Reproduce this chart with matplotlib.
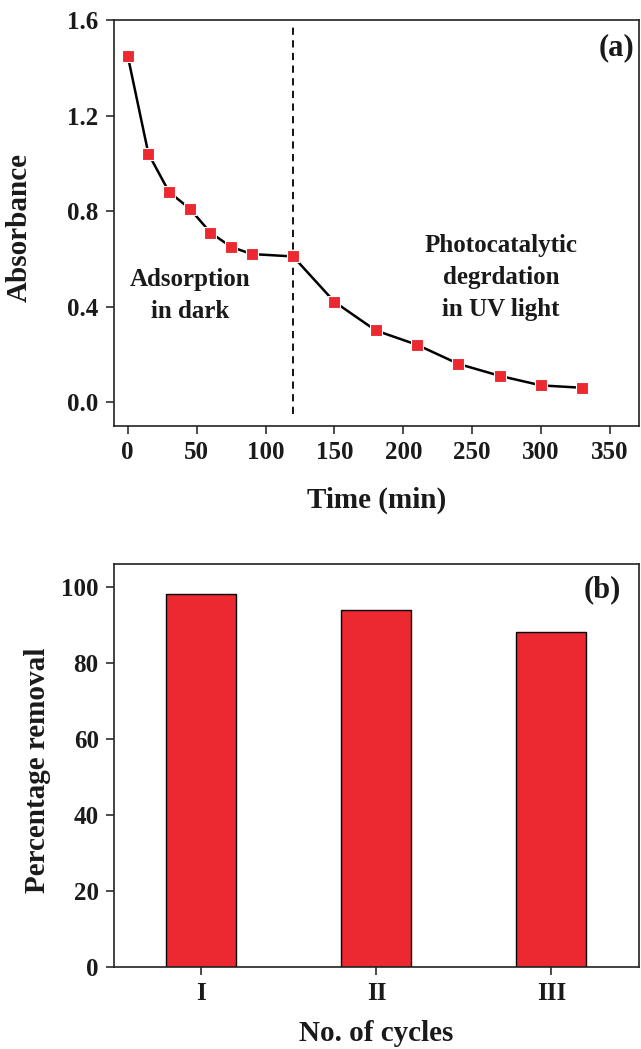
import matplotlib
matplotlib.use("Agg")
import matplotlib.pyplot as plt

# panel (a): absorbance vs time
time_min = [0, 15, 30, 45, 60, 75, 90, 120, 150, 180, 210, 240, 270, 300, 330]
absorbance = [1.45, 1.04, 0.88, 0.81, 0.71, 0.65, 0.62, 0.61, 0.42, 0.30, 0.24, 0.16, 0.11, 0.07, 0.06]
dark_end = 120

# panel (b): recycling
cycles = ["I", "II", "III"]
removal = [98, 94, 88]

plt.rcParams['font.family'] = ['Liberation Serif', 'DejaVu Serif']
plt.rcParams['font.weight'] = 'bold'

red = '#ec2830'
ink = '#1a1a1a'
fs_tick = 18
fs_lab = 21

fig = plt.figure(figsize=(6.41, 10.49), dpi=100)
ax1 = fig.add_axes([0.1778, 0.5939, 0.8190, 0.3870])
ax2 = fig.add_axes([0.1778, 0.0782, 0.8190, 0.3842])

ax1.plot(time_min, absorbance, color='black', lw=1.8, marker='s', ms=8,
         mfc=red, mec='white', mew=0.8, zorder=3)
ax1.vlines(dark_end, -0.05, 1.57, colors='black', linestyles=(0, (4, 3)), lw=1.3)
ax1.set_xlim(-10, 371)
ax1.set_ylim(-0.1, 1.6)
ax1.set_xticks([0, 50, 100, 150, 200, 250, 300, 350])
ax1.set_yticks([0.0, 0.4, 0.8, 1.2, 1.6])
ax1.set_yticklabels(["0.0", "0.4", "0.8", "1.2", "1.6"])
ax1.set_xlabel("Time (min)", fontsize=fs_lab, fontweight='bold', color=ink)
ax1.set_ylabel("Absorbance", fontsize=fs_lab, fontweight='bold', color=ink)
ax1.xaxis.set_label_coords(0.5, -0.182)
ax1.xaxis.label.set_va('center')
ax1.yaxis.set_label_coords(-0.1806, 0.49)
ax1.yaxis.label.set_va('center')
ax1.text(45, 0.448, "Adsorption\nin dark", ha='center', va='center',
         fontsize=fs_tick, fontweight='bold', linespacing=1.5, color=ink)
ax1.text(271, 0.523, "Photocatalytic\ndegrdation\nin UV light", ha='center', va='center',
         fontsize=fs_tick, fontweight='bold', linespacing=1.5, color=ink)
ax1.text(0.992, 0.933, "(a)", transform=ax1.transAxes, ha='right', va='center',
         fontsize=22, fontweight='bold', color=ink)

ax2.bar(range(len(cycles)), removal, width=0.4, color=red, edgecolor='black', lw=1.0)
ax2.set_xlim(-0.5, 2.5)
ax2.set_ylim(0, 106)
ax2.set_xticks(range(len(cycles)))
ax2.set_xticklabels(cycles)
ax2.set_yticks([0, 20, 40, 60, 80, 100])
ax2.set_xlabel("No. of cycles", fontsize=fs_lab, fontweight='bold', color=ink)
ax2.set_ylabel("Percentage removal", fontsize=fs_lab, fontweight='bold', color=ink)
ax2.xaxis.set_label_coords(0.5, -0.164)
ax2.xaxis.label.set_va('center')
ax2.yaxis.set_label_coords(-0.1464, 0.489)
ax2.yaxis.label.set_va('center')
ax2.text(0.966, 0.935, "(b)", transform=ax2.transAxes, ha='right', va='center',
         fontsize=22, fontweight='bold', color=ink)

for ax in (ax1, ax2):
    for sp in ax.spines.values():
        sp.set_linewidth(1.2)
        sp.set_color('#222222')
    ax.tick_params(direction='out', length=6, width=1.1, labelsize=fs_tick,
                   top=False, right=False, pad=5, colors=ink)
    for lab in ax.get_xticklabels() + ax.get_yticklabels():
        lab.set_fontweight('bold')

fig.savefig("out.png", dpi=100)
